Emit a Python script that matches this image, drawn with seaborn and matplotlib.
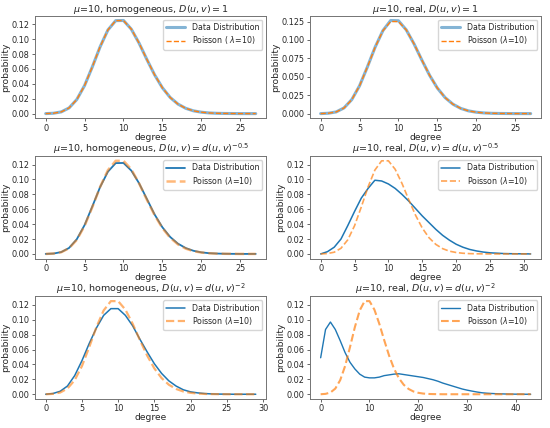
import matplotlib
matplotlib.use('AGG')
import matplotlib.pyplot as plt
from matplotlib.ticker import MultipleLocator
import seaborn as sns
import pandas as pd

# poisson pmf (lambda=10)
poisson = [0.0000, 0.0005, 0.0023, 0.0076, 0.0189, 0.0378, 0.0631, 0.0901, 0.1126, 0.1251,
           0.1251, 0.1137, 0.0948, 0.0729, 0.0521, 0.0347, 0.0217, 0.0128, 0.0071, 0.0037,
           0.0019, 0.0009, 0.0004, 0.0002, 0.0001, 0.0000, 0.0000, 0.0000, 0.0000, 0.0000,
           0.0000, 0.0000, 0.0000, 0.0000, 0.0000, 0.0000, 0.0000, 0.0000, 0.0000, 0.0000,
           0.0000, 0.0000, 0.0000, 0.0000]

homo_1 = [0.0000, 0.0005, 0.0023, 0.0076, 0.0190, 0.0378, 0.0630, 0.0900, 0.1125, 0.1250,
          0.1252, 0.1136, 0.0948, 0.0729, 0.0521, 0.0347, 0.0217, 0.0128, 0.0071, 0.0037,
          0.0019, 0.0009, 0.0004, 0.0002, 0.0001, 0.0000, 0.0000, 0.0000]
real_1 = [0.0000, 0.0005, 0.0023, 0.0077, 0.0190, 0.0378, 0.0632, 0.0902, 0.1127, 0.1265,
          0.1262, 0.1138, 0.0948, 0.0729, 0.0521, 0.0347, 0.0217, 0.0128, 0.0071, 0.0037,
          0.0019, 0.0009, 0.0004, 0.0002, 0.0001, 0.0000, 0.0000, 0.0000]
homo_05 = [0.0000, 0.0005, 0.0025, 0.0080, 0.0198, 0.0388, 0.0640, 0.0900, 0.1105, 0.1220,
           0.1222, 0.1120, 0.0950, 0.0740, 0.0530, 0.0358, 0.0228, 0.0138, 0.0079, 0.0042,
           0.0021, 0.0010, 0.0005, 0.0002, 0.0001, 0.0000, 0.0000, 0.0000]
real_05 = [0.0000, 0.0030, 0.0090, 0.0200, 0.0380, 0.0570, 0.0750, 0.0880, 0.0990, 0.0980,
           0.0940, 0.0880, 0.0800, 0.0710, 0.0610, 0.0510, 0.0420, 0.0330, 0.0250, 0.0185,
           0.0130, 0.0090, 0.0060, 0.0040, 0.0025, 0.0015, 0.0010, 0.0005, 0.0003, 0.0002,
           0.0001, 0.0000]
homo_2 = [0.0000, 0.0010, 0.0040, 0.0110, 0.0250, 0.0450, 0.0680, 0.0890, 0.1060, 0.1150,
          0.1150, 0.1060, 0.0920, 0.0740, 0.0570, 0.0410, 0.0280, 0.0180, 0.0110, 0.0060,
          0.0032, 0.0018, 0.0009, 0.0004, 0.0002, 0.0001, 0.0000, 0.0000, 0.0000, 0.0000]
real_2 = [0.0490, 0.0870, 0.0970, 0.0870, 0.0720, 0.0560, 0.0430, 0.0340, 0.0270, 0.0230,
          0.0220, 0.0220, 0.0230, 0.0250, 0.0260, 0.0270, 0.0275, 0.0265, 0.0255, 0.0245,
          0.0235, 0.0225, 0.0210, 0.0195, 0.0175, 0.0150, 0.0130, 0.0110, 0.0090, 0.0070,
          0.0055, 0.0042, 0.0030, 0.0020, 0.0014, 0.0010, 0.0007, 0.0005, 0.0003, 0.0002,
          0.0001, 0.0001, 0.0000, 0.0000]

titles = [r'$\mu$=10, homogeneous, $D(u,v)=1$',
          r'$\mu$=10, real, $D(u,v)=1$',
          r'$\mu$=10, homogeneous, $D(u,v)=d(u,v)^{-0.5}$',
          r'$\mu$=10, real, $D(u,v)=d(u,v)^{-0.5}$',
          r'$\mu$=10, homogeneous, $D(u,v)=d(u,v)^{-2}$',
          r'$\mu$=10, real, $D(u,v)=d(u,v)^{-2}$']
datos = [homo_1, real_1, homo_05, real_05, homo_2, real_2]
etiquetas_poisson = [r'Poisson ( $\lambda$=10)'] + [r'Poisson ($\lambda$=10)'] * 5
pasos_y = [0.02, 0.025, 0.02, 0.02, 0.02, 0.02]

# (data lw, data alpha, poisson lw, poisson alpha)
estilos = [(2.2, 0.55, 1.0, 1.0), (2.2, 0.55, 1.0, 1.0),
           (1.3, 1.0, 1.8, 0.55), (1.1, 1.0, 1.2, 0.7),
           (1.1, 1.0, 1.6, 0.6), (1.0, 1.0, 1.5, 0.7)]

sns.set_style('ticks')
plt.rcParams['font.family'] = ['DejaVu Sans']
plt.rcParams['mathtext.fontset'] = 'dejavusans'

fig, ejes = plt.subplots(3, 2, figsize=(5.5, 4.28), dpi=100)
fig.subplots_adjust(left=0.064, right=0.984, bottom=0.068, top=0.963, wspace=0.19, hspace=0.37)

for ax, serie, titulo, etq, est, paso in zip(ejes.flat, datos, titles, etiquetas_poisson, estilos, pasos_y):
    tabla = pd.DataFrame({'degree': range(len(serie)), 'data': serie,
                          'poisson': poisson[:len(serie)]})
    sns.lineplot(data=tabla, x='degree', y='data', ax=ax, color='#1f77b4',
                 lw=est[0], alpha=est[1], label='Data Distribution')
    sns.lineplot(data=tabla, x='degree', y='poisson', ax=ax, color='#ff7f0e',
                 lw=est[2], alpha=est[3], ls='--', label=etq)
    ax.yaxis.set_major_locator(MultipleLocator(paso))
    ax.set_title(titulo, fontsize=6.8, pad=2)
    ax.set_xlabel('degree', fontsize=6.6, labelpad=0)
    ax.set_ylabel('probability', fontsize=6.6, labelpad=1)
    ax.tick_params(labelsize=5.9, length=2.5, width=0.6, pad=1.5, color='0.3')
    for lado in ax.spines.values():
        lado.set_color('0.45')
        lado.set_linewidth(0.7)
    ax.legend(loc='upper right', fontsize=5.7, frameon=True, edgecolor='0.8',
              handlelength=2.4, borderpad=0.4, labelspacing=0.3)

fig.savefig('out.png')
plt.close()
